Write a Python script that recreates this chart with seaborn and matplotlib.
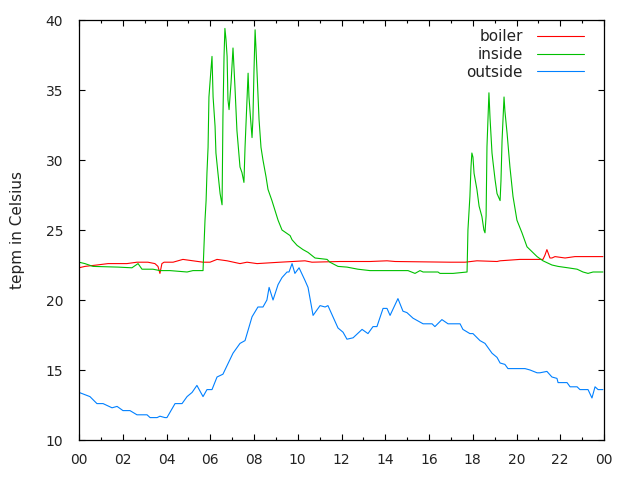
import matplotlib
matplotlib.use("Agg")
import matplotlib.pyplot as plt
from matplotlib.ticker import MultipleLocator, FixedLocator
import numpy as np
import pandas as pd
import seaborn as sns

# ---- data (hours of day, temperature in Celsius) ----
boiler_hours = [0.00, 0.27, 0.82, 1.33, 2.19, 2.65, 3.15, 3.47, 3.61, 3.70, 3.79, 3.89,
                4.30, 4.75, 5.21, 5.67, 5.99, 6.31, 6.77, 7.36, 7.68, 8.14, 9.19, 9.78,
                10.33, 10.65, 11.93, 13.30, 14.08, 14.45, 16.96, 17.65, 18.19, 19.11,
                19.25, 20.16, 21.21, 21.30, 21.39, 21.53, 21.62, 21.76, 22.22, 22.67, 23.95]
boiler_temp = [22.3, 22.4, 22.5, 22.6, 22.6, 22.7, 22.7, 22.6, 22.4, 21.9, 22.6, 22.7,
               22.7, 22.9, 22.8, 22.7, 22.7, 22.9, 22.8, 22.6, 22.7, 22.6, 22.7, 22.75,
               22.8, 22.7, 22.75, 22.75, 22.8, 22.75, 22.7, 22.7, 22.8, 22.75,
               22.8, 22.9, 22.9, 23.2, 23.6, 23.0, 23.0, 23.1, 23.0, 23.1, 23.1]

inside_hours = [0.00, 0.27, 0.64, 1.78, 2.42, 2.70, 2.88, 3.38, 3.70, 4.16, 4.94, 5.21,
                5.67, 5.76, 5.81, 5.85, 5.90, 5.94, 6.03, 6.08, 6.13, 6.22, 6.26, 6.35,
                6.45, 6.54, 6.58, 6.63, 6.67, 6.72, 6.77, 6.81, 6.86, 6.95, 6.99, 7.04,
                7.13, 7.22, 7.36, 7.45, 7.54, 7.59, 7.68, 7.73, 7.77, 7.86, 7.91, 7.95,
                8.00, 8.05, 8.09, 8.14, 8.23, 8.32, 8.41, 8.55, 8.64, 8.82, 8.96, 9.10,
                9.28, 9.65, 9.74, 9.97, 10.24, 10.47, 10.79, 11.34, 11.47, 11.84, 12.25,
                12.75, 13.30, 13.85, 15.04, 15.36, 15.59, 15.73, 16.41, 16.50, 17.10,
                17.74, 17.78, 17.87, 17.92, 17.96, 18.01, 18.06, 18.19, 18.29, 18.42,
                18.51, 18.56, 18.61, 18.65, 18.74, 18.79, 18.88, 18.93, 19.02, 19.11,
                19.25, 19.29, 19.34, 19.43, 19.47, 19.57, 19.70, 19.84, 20.02, 20.25,
                20.48, 20.94, 21.21, 21.62, 21.90, 22.35, 22.77, 23.04, 23.27, 23.50, 23.95]
inside_temp = [22.7, 22.6, 22.4, 22.35, 22.3, 22.6, 22.2, 22.2, 22.1, 22.1, 22.0, 22.1,
               22.1, 25.7, 27.1, 29.1, 30.9, 34.5, 36.4, 37.4, 34.5, 32.4, 30.5, 29.1,
               27.6, 26.8, 33.1, 37.4, 39.4, 38.6, 37.4, 34.3, 33.6, 35.5, 36.6, 38.0,
               35.2, 32.1, 29.5, 29.1, 28.4, 30.9, 34.3, 36.2, 34.5, 32.6, 31.6, 32.9,
               36.4, 39.3, 38.0, 36.2, 32.9, 30.9, 30.0, 28.8, 27.9, 27.1, 26.4, 25.7,
               25.0, 24.6, 24.3, 23.9, 23.6, 23.4, 23.0, 22.9, 22.7, 22.4, 22.35,
               22.2, 22.1, 22.1, 22.1, 21.9, 22.1, 22.0, 22.0, 21.9, 21.9,
               22.0, 25.0, 27.4, 29.5, 30.5, 30.2, 29.05, 27.9, 26.7, 25.95,
               25.0, 24.8, 26.0, 30.95, 34.8, 33.0, 30.5, 29.8, 28.6, 27.6,
               27.1, 28.5, 31.4, 34.5, 33.5, 31.9, 29.5, 27.4, 25.7, 24.8,
               23.8, 23.1, 22.8, 22.5, 22.4, 22.3, 22.2, 22.0, 21.9, 22.0, 22.0]

outside_hours = [0.00, 0.50, 0.82, 1.10, 1.51, 1.74, 2.01, 2.33, 2.65, 3.11, 3.25, 3.57,
                 3.70, 3.93, 4.02, 4.39, 4.71, 4.94, 5.17, 5.39, 5.67, 5.85, 6.08, 6.31,
                 6.58, 7.04, 7.36, 7.59, 7.91, 8.18, 8.41, 8.59, 8.69, 8.87, 9.10, 9.28,
                 9.51, 9.60, 9.74, 9.87, 10.06, 10.33, 10.47, 10.70, 11.02, 11.25, 11.38,
                 11.61, 11.84, 12.07, 12.25, 12.53, 12.94, 13.21, 13.44, 13.62, 13.90,
                 14.08, 14.22, 14.58, 14.81, 14.99, 15.27, 15.73, 16.14, 16.27, 16.59,
                 16.87, 17.42, 17.55, 17.87, 18.01, 18.33, 18.56, 18.88, 19.11, 19.25,
                 19.47, 19.61, 20.39, 20.62, 20.94, 21.07, 21.39, 21.62, 21.85, 21.90,
                 22.31, 22.45, 22.77, 22.90, 23.27, 23.45, 23.59, 23.73, 23.95]
outside_temp = [13.4, 13.1, 12.6, 12.6, 12.3, 12.4, 12.1, 12.1, 11.8, 11.8, 11.6, 11.6,
                11.7, 11.6, 11.6, 12.6, 12.6, 13.1, 13.4, 13.9, 13.1, 13.6, 13.6, 14.5,
                14.7, 16.2, 16.9, 17.1, 18.8, 19.5, 19.5, 20.0, 20.9, 20.0, 21.1, 21.6,
                22.0, 22.0, 22.6, 21.9, 22.3, 21.4, 20.9, 18.9, 19.6, 19.5, 19.6,
                18.8, 18.0, 17.7, 17.2, 17.3, 17.9, 17.6, 18.1, 18.1, 19.4,
                19.4, 18.9, 20.1, 19.2, 19.1, 18.7, 18.3, 18.3, 18.1, 18.6,
                18.3, 18.3, 17.9, 17.6, 17.6, 17.1, 16.9, 16.2, 15.9, 15.5,
                15.4, 15.1, 15.1, 15.0, 14.8, 14.8, 14.9, 14.5, 14.4, 14.1,
                14.1, 13.8, 13.8, 13.6, 13.6, 13.0, 13.8, 13.6, 13.6]

series_names = ["boiler", "inside", "outside"]
series_colors = ["#ff0000", "#00c000", "#0080ff"]
x_tick_hours = list(range(0, 25, 2))
x_tick_labels = ["00", "02", "04", "06", "08", "10", "12", "14", "16", "18", "20", "22", "00"]
y_ticks = [10, 15, 20, 25, 30, 35, 40]
y_label = "tepm in Celsius"

# ---- long table ----
frames = []
for name, hrs, tmp in zip(series_names,
                          [boiler_hours, inside_hours, outside_hours],
                          [boiler_temp, inside_temp, outside_temp]):
    frames.append(pd.DataFrame({"hour": hrs, "temp": tmp, "series": name}))
df = pd.concat(frames, ignore_index=True)

sns.set_style("white")
plt.rcParams["font.family"] = ["DejaVu Sans"]

fig = plt.figure(figsize=(6.4, 4.8), dpi=100)
ax = fig.add_axes([79 / 640, 40 / 480, 525 / 640, 420 / 480])

sns.lineplot(data=df, x="hour", y="temp", hue="series", hue_order=series_names,
             palette=dict(zip(series_names, series_colors)), estimator=None,
             sort=False, linewidth=0.8, ax=ax)

ax.set_xlim(0, 24)
ax.set_ylim(10, 40)
ax.xaxis.set_major_locator(FixedLocator(x_tick_hours))
ax.set_xticklabels(x_tick_labels)
ax.xaxis.set_minor_locator(MultipleLocator(1))
ax.yaxis.set_major_locator(FixedLocator(y_ticks))
ax.set_yticklabels([str(v) for v in y_ticks])

ax.tick_params(which="both", direction="in", top=True, right=True, bottom=True, left=True,
               color="black", width=0.8)
ax.tick_params(which="major", length=4.5, labelsize=10, labelcolor="#222222")
ax.tick_params(axis="x", which="major", pad=9.5)
ax.tick_params(axis="y", which="major", pad=11.5)
ax.tick_params(which="minor", length=2.2)
for side in ["top", "bottom", "left", "right"]:
    ax.spines[side].set_visible(True)
    ax.spines[side].set_color("black")
    ax.spines[side].set_linewidth(0.9)

ax.set_xlabel("")
ax.set_ylabel(y_label, fontsize=11, color="#222222", labelpad=15)

leg = ax.legend(loc="upper right", bbox_to_anchor=(0.962, 0.978), frameon=False,
                markerfirst=False, fontsize=11, handlelength=3.1, handletextpad=0.9,
                labelspacing=0.18, borderaxespad=0.0, borderpad=0.0,
                labelcolor="#222222")

fig.savefig("out.png", dpi=100)
